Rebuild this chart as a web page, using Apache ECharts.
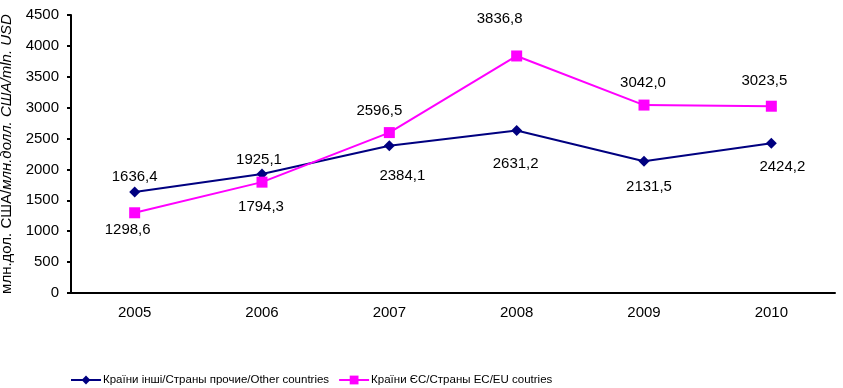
<!DOCTYPE html>
<html><head><meta charset="utf-8">
<script src="https://cdn.jsdelivr.net/npm/echarts@6/dist/echarts.min.js"></script>
<style>html,body{margin:0;padding:0;background:#fff}#c{width:843px;height:388px}</style>
</head><body><div id="c"></div>
<script>
const years = ['2005','2006','2007','2008','2009','2010'];
const otherCountries = [1636.4, 1925.1, 2384.1, 2631.2, 2131.5, 2424.2];
const euCountries = [1298.6, 1794.3, 2596.5, 3836.8, 3042.0, 3023.5];
const otherName = 'Країни інші/Страны прочие/Other countries';
const euName = 'Країни ЄС/Страны ЕС/EU coutries';

// label placement relative to each point (styling only)
const otherLabelOffsets = [[0,-15],[-3,-14],[13,30],[-1,33],[5,26],[11,24]];
const euLabelOffsets = [[-7,17],[-1,25],[-10,-22],[-17,-37],[-1,-22],[-7,-25]];

const fmt = v => v.toFixed(1).replace('.', ',');
const font = 'Liberation Sans, Arial, sans-serif';

function build(vals, offs) {
  return vals.map((v, i) => ({
    value: v,
    label: { position: 'inside', offset: offs[i] }
  }));
}

const chart = echarts.init(document.getElementById('c'), null, {renderer: 'canvas'});
chart.setOption({
  animation: false,
  textStyle: { fontFamily: font },
  grid: { left: 71, right: 8, top: 15, bottom: 95, containLabel: false, outerBoundsMode: 'none' },
  legend: {
    bottom: 2, left: 70, padding: 0,
    itemGap: 9, itemWidth: 30, itemHeight: 11,
    textStyle: { fontFamily: font, fontSize: 11.5, color: '#000', padding: [0,0,0,-3] },
    data: [ otherName, euName ]
  },
  xAxis: {
    type: 'category', data: years, boundaryGap: true,
    axisLine: { lineStyle: { color: '#000', width: 2 } },
    axisTick: { lineStyle: { color: '#000', width: 2 }, length: 4, inside: false },
    axisLabel: { color: '#000', fontSize: 15, fontFamily: font, margin: 12 }
  },
  yAxis: {
    type: 'value', min: 0, max: 4500, interval: 500,
    name: '{n|млн.дол. США/}{i|млн.долл. США/mln. USD}',
    nameLocation: 'middle', nameGap: 48, nameRotate: 90,
    nameTextStyle: {
      rich: {
        n: { fontSize: 15, fontFamily: font, color: '#000', fontStyle: 'normal' },
        i: { fontSize: 15, fontFamily: font, color: '#000', fontStyle: 'italic' }
      }
    },
    axisLine: { show: true, lineStyle: { color: '#000', width: 2 } },
    axisTick: { show: true, lineStyle: { color: '#000', width: 2 }, length: 4 },
    axisLabel: { color: '#000', fontSize: 15, fontFamily: font, margin: 12, formatter: v => String(v) },
    splitLine: { show: false }
  },
  series: [
    {
      name: otherName, type: 'line',
      data: build(otherCountries, otherLabelOffsets),
      symbol: 'diamond', symbolSize: 11,
      lineStyle: { color: '#000080', width: 2 },
      itemStyle: { color: '#000080' },
      label: { show: true, formatter: p => fmt(p.value), color: '#000', fontSize: 15, fontFamily: font }
    },
    {
      name: euName, type: 'line',
      data: build(euCountries, euLabelOffsets),
      symbol: 'rect', symbolSize: 11,
      lineStyle: { color: '#FF00FF', width: 2 },
      itemStyle: { color: '#FF00FF' },
      label: { show: true, formatter: p => fmt(p.value), color: '#000', fontSize: 15, fontFamily: font }
    }
  ]
});
</script></body></html>
